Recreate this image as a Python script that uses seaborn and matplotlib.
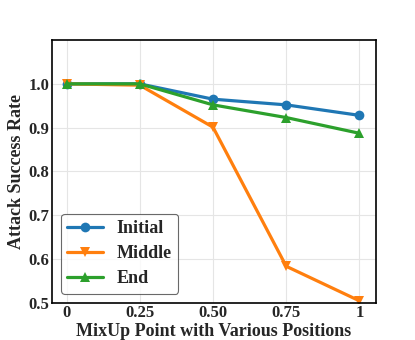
import numpy as np
import pandas as pd
import matplotlib
matplotlib.use("Agg")
import matplotlib.pyplot as plt
import seaborn as sns

# Datos
puntos = ["0", "0.25", "0.50", "0.75", "1"]
initial = [1.0, 1.0, 0.965, 0.952, 0.928]
middle = [1.0, 0.997, 0.901, 0.583, 0.504]
end = [1.0, 1.0, 0.952, 0.923, 0.887]

series = {"Initial": initial, "Middle": middle, "End": end}
marcadores = {"Initial": "o", "Middle": "v", "End": "^"}

df = pd.DataFrame(
    [(i, nombre, v) for nombre, vals in series.items() for i, v in enumerate(vals)],
    columns=["pos", "serie", "asr"],
)

sns.set_theme(style="whitegrid")
plt.rcParams["font.family"] = ["Liberation Serif", "DejaVu Serif"]
plt.rcParams["font.weight"] = "bold"

fig, ax = plt.subplots(figsize=(4.15, 3.4), dpi=100)
sns.lineplot(
    data=df, x="pos", y="asr", hue="serie", style="serie",
    markers=marcadores, dashes=False, palette="tab10",
    linewidth=2.3, markersize=7, markeredgewidth=0, ax=ax,
)

ax.set_xticks(range(len(puntos)))
ax.set_xticklabels(puntos)
ax.set_xlim(-0.2, 4.22)
ax.set_ylim(0.5, 1.1)
ax.set_yticks([0.5, 0.6, 0.7, 0.8, 0.9, 1.0])
ax.tick_params(labelsize=12, length=0, pad=2)
for lbl in ax.get_xticklabels() + ax.get_yticklabels():
    lbl.set_fontweight("bold")

ax.set_xlabel("MixUp Point with Various Positions", fontsize=13, fontweight="bold", labelpad=1)
ax.set_ylabel("Attack Success Rate", fontsize=13, fontweight="bold", labelpad=2.5)

for s in ax.spines.values():
    s.set_color("black")
    s.set_linewidth(1.2)
ax.grid(color="#e5e5e5", linewidth=0.8)

leg = ax.legend(loc="lower left", prop={"size": 13, "weight": "bold"},
                frameon=True, handlelength=2.0, borderpad=0.35, labelspacing=0.45,
                handletextpad=0.75, borderaxespad=0.5)
leg.get_frame().set_edgecolor("#444444")
leg.get_frame().set_linewidth(0.8)

fig.subplots_adjust(left=0.125, right=0.905, top=0.882, bottom=0.11)
fig.savefig("out.png", dpi=100)
